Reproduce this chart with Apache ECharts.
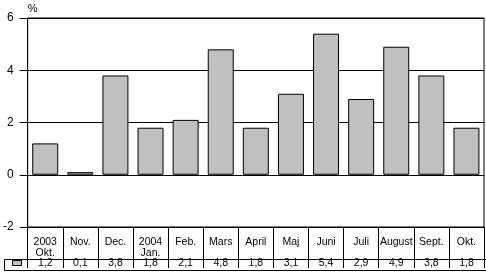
<!DOCTYPE html>
<html><head><meta charset="utf-8">
<script src="https://cdn.jsdelivr.net/npm/echarts@6/dist/echarts.min.js"></script>
<style>html,body{margin:0;padding:0;background:#fff}#c{width:486px;height:274px}</style>
</head><body><div id="c"></div>
<script>
const categories = ['2003\nOkt.', 'Nov.', 'Dec.', '2004\nJan.', 'Feb.', 'Mars', 'April', 'Maj', 'Juni', 'Juli', 'August', 'Sept.', 'Okt.'];
const values = [1.2, 0.1, 3.8, 1.8, 2.1, 4.8, 1.8, 3.1, 5.4, 2.9, 4.9, 3.8, 1.8];
const yTicks = [-2, 0, 2, 4, 6];
const valueLabels = values.map(v => v.toFixed(1).replace('.', ','));
const FONT = 'Liberation Sans, Arial, sans-serif';
const chart = echarts.init(document.getElementById('c'), null, {renderer: 'canvas'});
chart.setOption({
  animation: false,
  backgroundColor: '#fff',
  grid: {left: 25, right: 2, top: 18, height: 209, show: true, borderColor: '#000', borderWidth: 1, containLabel: false},
  legend: {
    show: true, left: 12, top: 260, itemWidth: 9, itemHeight: 5, icon: 'rect',
    formatter: () => '', data: ['Serie'], itemGap: 0, padding: 0,
    textStyle: {fontSize: 1, padding: 0},
    itemStyle: {borderWidth: 1, borderColor: '#000', color: '#c0c0c0'}
  },
  graphic: [{
    type: 'rect', left: 2, top: 257, shape: {width: 482, height: 11},
    style: {fill: 'none', stroke: '#000', lineWidth: 1}, silent: true, z: 10
  }],
  xAxis: [{
    type: 'category', data: categories, position: 'bottom',
    axisLine: {onZero: false, show: true, lineStyle: {color: '#000'}},
    axisTick: {show: true, interval: 0, length: 30, lineStyle: {color: '#000'}},
    axisLabel: {interval: 0, color: '#000', fontFamily: FONT, fontSize: 10.5, lineHeight: 11, margin: 10},
    splitLine: {show: false}
  }, {
    type: 'category', data: valueLabels, position: 'bottom', offset: 30,
    axisLine: {onZero: false, show: false},
    axisTick: {show: true, interval: 0, length: 11, lineStyle: {color: '#000'}},
    axisLabel: {interval: 0, color: '#000', fontFamily: FONT, fontSize: 10.5, margin: 1}
  }],
  yAxis: {
    type: 'value', min: -2, max: 6, interval: 2,
    name: '%', nameLocation: 'end', nameGap: 4,
    nameTextStyle: {color: '#000', fontFamily: FONT, fontSize: 11, align: 'left', padding: [0, 0, 0, 0]},
    axisLine: {show: true, lineStyle: {color: '#000'}},
    axisTick: {show: true, length: 8, lineStyle: {color: '#000'}},
    axisLabel: {color: '#000', fontFamily: FONT, fontSize: 12, margin: 14,
      formatter: v => yTicks.includes(v) ? String(v) : ''},
    splitLine: {show: true, lineStyle: {color: '#000', width: 1}}
  },
  series: [{
    name: 'Serie', type: 'bar', data: values, barCategoryGap: '26%',
    itemStyle: {color: '#c0c0c0', borderColor: '#000', borderWidth: 1}
  }]
});
</script></body></html>
